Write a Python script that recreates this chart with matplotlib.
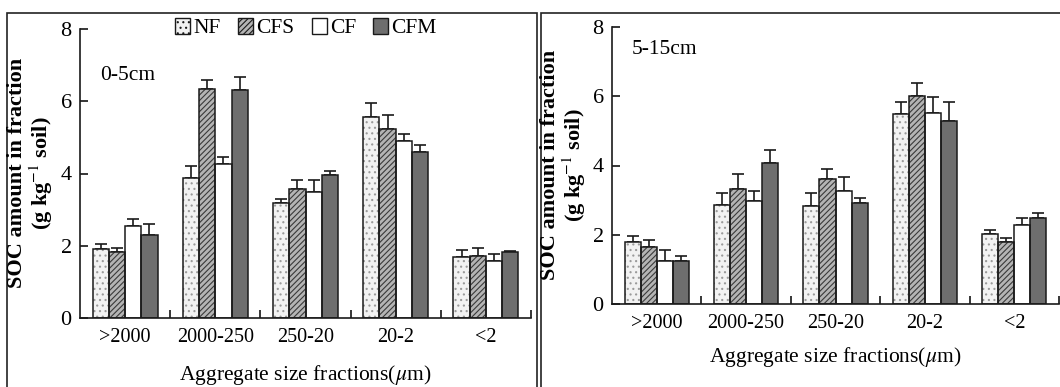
import matplotlib.pyplot as plt
from matplotlib.patches import Rectangle
import numpy as np

plt.rcParams['font.family'] = ['Liberation Serif', 'DejaVu Serif']
plt.rcParams['mathtext.fontset'] = 'stix'
plt.rcParams['hatch.linewidth'] = 0.8

# datos
fracciones = ['>2000', '2000-250', '250-20', '20-2', '<2']
tratamientos = ['NF', 'CFS', 'CF', 'CFM']

# 0-5 cm
nf_0_5 = [1.91, 3.87, 3.19, 5.57, 1.69]
cfs_0_5 = [1.82, 6.35, 3.58, 5.23, 1.72]
cf_0_5 = [2.54, 4.27, 3.48, 4.89, 1.59]
cfm_0_5 = [2.31, 6.30, 3.97, 4.60, 1.82]
nf_0_5_err = [0.15, 0.35, 0.10, 0.38, 0.19]
cfs_0_5_err = [0.11, 0.24, 0.24, 0.38, 0.21]
cf_0_5_err = [0.21, 0.19, 0.34, 0.19, 0.19]
cfm_0_5_err = [0.30, 0.38, 0.09, 0.18, 0.04]

# 5-15 cm
nf_5_15 = [1.78, 2.87, 2.82, 5.49, 2.03]
cfs_5_15 = [1.64, 3.31, 3.61, 6.02, 1.78]
cf_5_15 = [1.24, 2.97, 3.26, 5.53, 2.28]
cfm_5_15 = [1.24, 4.06, 2.93, 5.29, 2.47]
nf_5_15_err = [0.19, 0.34, 0.39, 0.35, 0.10]
cfs_5_15_err = [0.20, 0.45, 0.30, 0.36, 0.14]
cf_5_15_err = [0.31, 0.28, 0.40, 0.45, 0.19]
cfm_5_15_err = [0.15, 0.39, 0.14, 0.54, 0.16]

estilos = {
    'NF': dict(face='#f2f2f2', hatch='...', hcolor='#9a9a9a'),
    'CFS': dict(face='#b4b4b4', hatch='//////', hcolor='#3a3a3a'),
    'CF': dict(face='white', hatch=None, hcolor='black'),
    'CFM': dict(face='#6e6e6e', hatch=None, hcolor='black'),
}

W, H = 1060, 387
fig = plt.figure(figsize=(W / 100, H / 100), dpi=100)

# marcos de los paneles
fig.add_artist(Rectangle((7 / W, -0.1), (537 - 7) / W, 1.1 - 13 / H, transform=fig.transFigure,
                         fill=False, edgecolor='#222222', lw=1.2))
fig.add_artist(Rectangle((541 / W, -0.1), 1.0, 1.1 - 13 / H, transform=fig.transFigure,
                         fill=False, edgecolor='#222222', lw=1.2))

ancho = 0.18
x = np.arange(len(fracciones))


def dibujar_panel(ax, valores, errores, etiqueta, pos_etiqueta):
    for i, trat in enumerate(tratamientos):
        est = estilos[trat]
        xs = x + (i - 1.5) * ancho
        ax.bar(xs, valores[i], ancho, color=est['face'], edgecolor=est['hcolor'],
               hatch=est['hatch'], linewidth=0, zorder=2)
        ax.bar(xs, valores[i], ancho, fill=False, edgecolor='#1a1a1a', linewidth=1.1, zorder=3)
        ax.errorbar(xs, valores[i], yerr=[np.zeros(len(x)), errores[i]], fmt='none',
                    ecolor='#1a1a1a', elinewidth=1.2, capsize=4.5, capthick=1.2, zorder=1)
    ax.set_xlim(-0.5, 4.5)
    ax.set_ylim(0, 8)
    ax.set_yticks([0, 2, 4, 6, 8])
    ax.set_xticks(x)
    ax.set_xticklabels(fracciones)
    ax.set_xticks(np.arange(0.5, 5, 1), minor=True)
    ax.tick_params(axis='x', which='major', length=0, pad=7, labelsize=14.5)
    ax.tick_params(axis='x', which='minor', direction='in', length=6, width=1.1)
    ax.tick_params(axis='y', direction='in', length=6, width=1.1, labelsize=16, pad=6)
    for s in ['top', 'right']:
        ax.spines[s].set_visible(False)
    for s in ['left', 'bottom']:
        ax.spines[s].set_linewidth(1.2)
        ax.spines[s].set_color('#1a1a1a')
    ax.text(pos_etiqueta[0], pos_etiqueta[1], etiqueta, transform=ax.transAxes,
            fontsize=15.5, va='center', ha='left')


ax1 = fig.add_axes([80 / W, 1 - 318 / H, 451 / W, (318 - 29) / H])
dibujar_panel(ax1, [nf_0_5, cfs_0_5, cf_0_5, cfm_0_5],
              [nf_0_5_err, cfs_0_5_err, cf_0_5_err, cfm_0_5_err], '0-5cm', (0.044, 0.84))

ax2 = fig.add_axes([612 / W, 1 - 304 / H, 447 / W, (304 - 27) / H])
dibujar_panel(ax2, [nf_5_15, cfs_5_15, cf_5_15, cfm_5_15],
              [nf_5_15_err, cfs_5_15_err, cf_5_15_err, cfm_5_15_err], '5-15cm', (0.045, 0.917))

# etiquetas de ejes
ylab = 'SOC amount in fraction\n(g kg$^{-1}$ soil)'
fig.text(31 / W, 1 - 173 / H, ylab, rotation=90, ha='center', va='center',
         fontsize=16, fontweight='bold', multialignment='center', linespacing=1.0)
fig.text(564 / W, 1 - 165 / H, ylab, rotation=90, ha='center', va='center',
         fontsize=16, fontweight='bold', multialignment='center', linespacing=1.0)
fig.text(305 / W, 1 - 375 / H, 'Aggregate size fractions($\\mu$m)', ha='center', va='center',
         fontsize=15.5)
fig.text(835 / W, 1 - 357 / H, 'Aggregate size fractions($\\mu$m)', ha='center', va='center',
         fontsize=15.5)

# leyenda
handles = []
for trat in tratamientos:
    est = estilos[trat]
    handles.append(Rectangle((0, 0), 1, 1, facecolor=est['face'], edgecolor='#1a1a1a',
                             hatch=est['hatch'], linewidth=1.0))
fig.legend(handles, tratamientos, loc='center', bbox_to_anchor=(306 / W, 1 - 28 / H), ncol=4,
           frameon=False, fontsize=15.5, handlelength=0.7, handleheight=0.75,
           handletextpad=0.15, columnspacing=0.8, borderpad=0)

fig.savefig('out.png', dpi=100)
